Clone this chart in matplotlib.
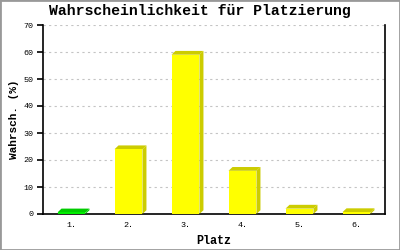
import matplotlib.pyplot as plt
from matplotlib.patches import Polygon, Rectangle

plaetze = ['1.', '2.', '3.', '4.', '5.', '6.']
werte = [0.6, 24, 59, 16, 2, 0.7]
farben = ['#00ee00', '#ffff00', '#ffff00', '#ffff00', '#ffff00', '#ffff00']
dunkel = ['#00cc00', '#cccc00', '#cccc00', '#cccc00', '#cccc00', '#cccc00']

mono = 'Liberation Mono'

fig = plt.figure(figsize=(4, 2.5), dpi=100)
fig.patches.append(Rectangle((0, 0), 1, 1, transform=fig.transFigure, fill=False,
                             edgecolor='#999999', linewidth=2))
ax = fig.add_axes([0.1075, 0.144, 0.855, 0.756])

breite = 0.49
dx, dy = 0.07, 1.4
for i, (w, f, d) in enumerate(zip(werte, farben, dunkel)):
    x0, x1 = i - breite / 2, i + breite / 2
    ax.add_patch(Polygon([(x1, 0), (x1 + dx, dy), (x1 + dx, w + dy), (x1, w)],
                         closed=True, facecolor=d, edgecolor='none', zorder=3))
    ax.add_patch(Polygon([(x0, w), (x0 + dx, w + dy), (x1 + dx, w + dy), (x1, w)],
                         closed=True, facecolor=d, edgecolor='none', zorder=3))
    ax.bar(i, w, width=breite, color=f, zorder=4)

ax.set_xlim(-0.5, 5.5)
ax.set_ylim(0, 70)
ax.set_yticks(range(0, 71, 10))
ax.set_xticks(range(len(plaetze)))
ax.set_xticklabels(plaetze)
ax.grid(axis='y', color='#c4c4c4', linestyle=(0, (2, 3)), linewidth=0.8, zorder=0)
ax.spines['top'].set_visible(False)
for s in ['left', 'right', 'bottom']:
    ax.spines[s].set_linewidth(1.2)
ax.tick_params(axis='x', length=0, pad=6)
ax.tick_params(axis='y', length=4, width=1.2, pad=3)
for lab in ax.get_xticklabels() + ax.get_yticklabels():
    lab.set_fontfamily(mono)
    lab.set_fontsize(6)

ax.set_xlabel('Platz', fontfamily=mono, fontweight='bold', fontsize=8.5, labelpad=4)
ax.set_ylabel('Wahrsch. (%)', fontfamily=mono, fontweight='bold', fontsize=8, labelpad=3)
fig.text(0.5, 0.955, 'Wahrscheinlichkeit für Platzierung', ha='center', va='center',
         fontfamily=mono, fontweight='bold', fontsize=10.7)

fig.savefig('out.png', dpi=100)
